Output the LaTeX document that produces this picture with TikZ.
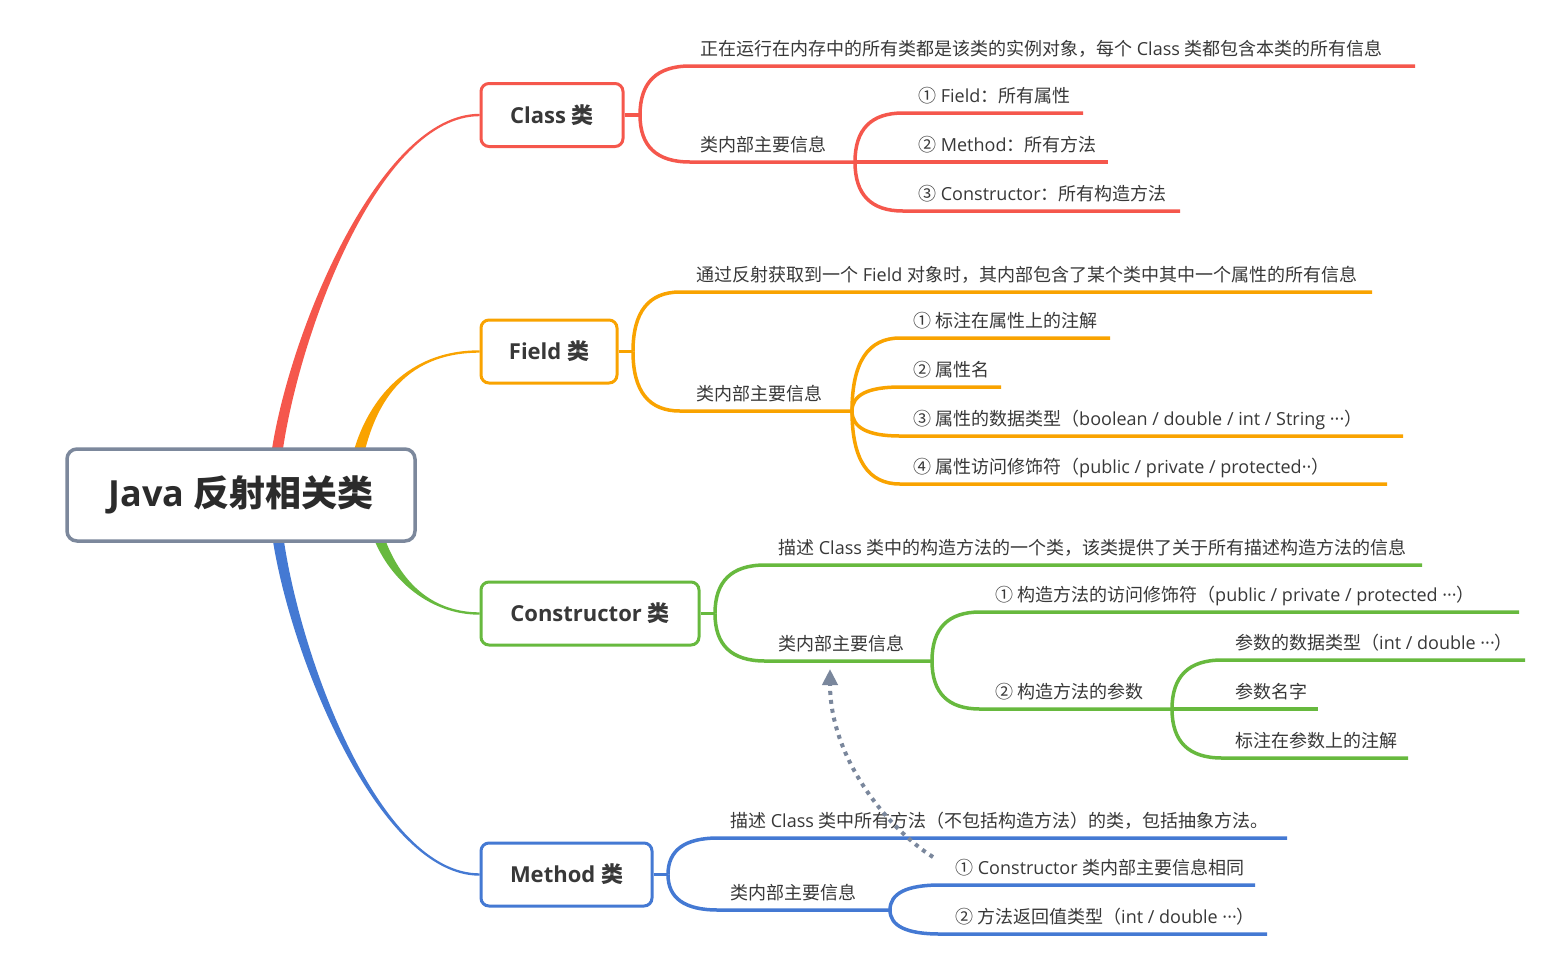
\documentclass[tikz,border=0pt]{standalone}
\usepackage{fontspec}
\setmainfont{Open Sans}
\newfontfamily\zhf{Noto Sans CJK SC}
\newcommand\zh[1]{{\zhf #1}}
\usetikzlibrary{calc,arrows.meta,backgrounds}
\definecolor{cred}{HTML}{F5574C}
\definecolor{corange}{HTML}{F9A300}
\definecolor{cgreen}{HTML}{67B93E}
\definecolor{cblue}{HTML}{4479D3}
\definecolor{cgray}{HTML}{7C889C}
\definecolor{carrow}{HTML}{7A879C}
\definecolor{ctext}{HTML}{383838}
\definecolor{croot}{HTML}{2B2B2B}
% tapered main branch: color, start, ctrl1, ctrl2, end, sign
\newcommand\branch[6]{%
  \fill[#1] ($(#2)+(-5.5,0)$) .. controls ($(#3)+(-5,0)$) and ($(#4)+(0,{-1.2*(#6)})$) .. ($(#5)+(0,{-1.2*(#6)})$)
    -- ($(#5)+(0,{1.2*(#6)})$) .. controls ($(#4)+(0,{1.2*(#6)})$) and ($(#3)+(5,0)$) .. ($(#2)+(5.5,0)$) -- cycle;}
% leaf: color, split, name, curve end x, y, line end x, text x, text
\newcommand\leaf[8]{%
  \coordinate (#3a) at (#4,#5);
  \coordinate (#3b) at (#6,#5);
  \coordinate (#3k) at (#2 |- #3a);
  \draw[#1,sub] (#2) .. controls ($(#2)!0.667!(#3k)$) and ($(#3a)!0.667!(#3k)$) .. (#3a) -- (#3b);
  \node[txt] (#3) at (#7,#5-11) {#8};}
\newcommand\dd{···}
\begin{document}
\begin{tikzpicture}[x=1pt,y=-1pt,
  sub/.style={line width=3.5pt},
  txt/.style={anchor=base west,inner sep=0pt,text=ctext,font=\fontsize{18}{20}\selectfont},
  topic/.style={draw=#1,line width=3pt,rounded corners=8pt,fill=white,minimum height=63pt,inner sep=0pt,text=ctext,font=\fontsize{22}{24}\selectfont\bfseries},
  rootbox/.style={draw=cgray,line width=3.5pt,rounded corners=10pt,fill=white,minimum width=348pt,minimum height=92pt,inner sep=0pt,text=croot,font=\fontsize{36}{40}\selectfont\bfseries},
  link/.style={carrow,line width=4pt,dash pattern=on 4pt off 5pt,-{Triangle[length=16pt,width=15pt]}}
]
\useasboundingbox (0,0) rectangle (1558,970);

% boxes
\node[rootbox] (root) at (241,495) {Java \zh{反射相关类}};
\node[topic=cred,minimum width=142pt] (cls) at (552,115) {Class \zh{类}};
\node[topic=corange,minimum width=136pt] (fld) at (549,351.5) {Field \zh{类}};
\node[topic=cgreen,minimum width=218pt] (con) at (590,613.5) {Constructor \zh{类}};
\node[topic=cblue,minimum width=171pt] (met) at (566.5,874.5) {Method \zh{类}};

\coordinate (rR) at (277,452);
\coordinate (rO) at (359,452);
\coordinate (rG) at (379,538);
\coordinate (rB) at (278,538);

\begin{pgfonlayer}{background}
\fill[white] (0,0) rectangle (1558,970);
\branch{cred}{rR}{295,330}{380,115}{cls.west}{1}
\branch{corange}{rO}{370,410}{400,351.5}{fld.west}{1}
\branch{cgreen}{rG}{395,580}{430,613.5}{con.west}{-1}
\branch{cblue}{rB}{296,660}{380,874.5}{met.west}{-1}
\end{pgfonlayer}

% Class
\coordinate (clsS) at (640,115);
\coordinate (clsI) at (855,162);
\draw[cred,sub] (cls.east) -- (clsS);
\leaf{cred}{clsS}{ct}{690}{66}{1415}{700}{\zh{正在运行在内存中的所有类都是该类的实例对象，每个} Class \zh{类都包含本类的所有信息}}
\leaf{cred}{clsS}{ci}{690}{162}{855}{700}{\zh{类内部主要信息}}
\leaf{cred}{clsI}{cA}{903}{113}{1083}{918}{\zh{①} Field\zh{：所有属性}}
\leaf{cred}{clsI}{cB}{903}{162}{1108}{918}{\zh{②} Method\zh{：所有方法}}
\leaf{cred}{clsI}{cC}{903}{211}{1180}{918}{\zh{③} Constructor\zh{：所有构造方法}}

% Field
\coordinate (fldS) at (633,351.5);
\coordinate (fldI) at (852,411);
\draw[corange,sub] (fld.east) -- (fldS);
\leaf{corange}{fldS}{ft}{680}{292}{1372}{696}{\zh{通过反射获取到一个} Field \zh{对象时，其内部包含了某个类中其中一个属性的所有信息}}
\leaf{corange}{fldS}{fi}{680}{411}{852}{696}{\zh{类内部主要信息}}
\leaf{corange}{fldI}{fA}{900}{338}{1110}{913}{\zh{① 标注在属性上的注解}}
\leaf{corange}{fldI}{fB}{900}{387}{1001}{913}{\zh{② 属性名}}
\leaf{corange}{fldI}{fC}{900}{436}{1403}{913}{\zh{③ 属性的数据类型（}boolean / double / int / String \dd\zh{）}}
\leaf{corange}{fldI}{fD}{900}{484}{1387}{913}{\zh{④ 属性访问修饰符（}public / private / protected··\zh{）}}

% Constructor
\coordinate (conS) at (715,613.5);
\coordinate (conI) at (932,661);
\coordinate (conP) at (1172,709);
\draw[cgreen,sub] (con.east) -- (conS);
\leaf{cgreen}{conS}{kt}{765}{565}{1422}{778}{\zh{描述} Class \zh{类中的构造方法的一个类，该类提供了关于所有描述构造方法的信息}}
\leaf{cgreen}{conS}{ki}{765}{661}{932}{778}{\zh{类内部主要信息}}
\leaf{cgreen}{conI}{kA}{980}{612}{1519}{995}{\zh{① 构造方法的访问修饰符（}public / private / protected \dd\zh{）}}
\leaf{cgreen}{conI}{kB}{980}{709}{1172}{995}{\zh{② 构造方法的参数}}
\leaf{cgreen}{conP}{pA}{1222}{660}{1525}{1235}{\zh{参数的数据类型（}int / double \dd\zh{）}}
\leaf{cgreen}{conP}{pB}{1222}{709}{1318}{1235}{\zh{参数名字}}
\leaf{cgreen}{conP}{pC}{1222}{758}{1408}{1235}{\zh{标注在参数上的注解}}

% Method
\coordinate (metS) at (668,874.5);
\coordinate (metI) at (890,910);
\draw[cblue,sub] (met.east) -- (metS);
\leaf{cblue}{metS}{mt}{718}{838}{1287}{730}{\zh{描述} Class \zh{类中所有方法（不包括构造方法）的类，包括抽象方法。}}
\leaf{cblue}{metS}{mi}{718}{910}{890}{730}{\zh{类内部主要信息}}
\leaf{cblue}{metI}{mA}{940}{885}{1255}{955}{\zh{①} Constructor \zh{类内部主要信息相同}}
\leaf{cblue}{metI}{mB}{940}{934}{1267}{955}{\zh{② 方法返回值类型（}int / double \dd\zh{）}}

% dotted relation arrow
\coordinate (arS) at (933,857);
\coordinate (arE) at (830,669);
\draw[link] (arS) .. controls (890,830) and (830,760) .. (arE);
\end{tikzpicture}
\end{document}
